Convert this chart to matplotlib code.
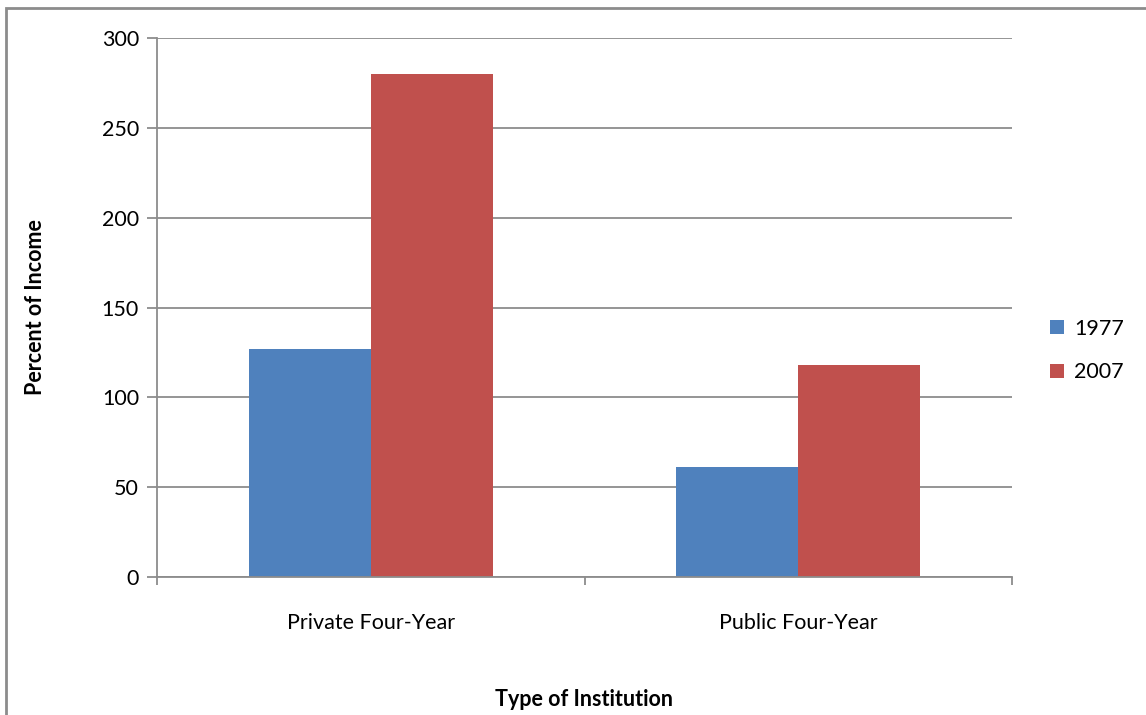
import matplotlib.pyplot as plt
import numpy as np
from matplotlib.patches import Rectangle

plt.rcParams["font.family"] = ["Lato", "DejaVu Sans"]

categories = ["Private Four-Year", "Public Four-Year"]
years = ["1977", "2007"]
values_1977 = [127, 61]
values_2007 = [280, 118]
yticks = [0, 50, 100, 150, 200, 250, 300]

blue = "#4f81bd"
red = "#c0504d"
gray = "#8c8c8c"
fs = 15.5

fig = plt.figure(figsize=(11.46, 7.15), dpi=100)
ax = fig.add_axes([157 / 1146, 1 - 577 / 715, 855 / 1146, 539 / 715])

x = np.arange(len(categories))
w = 0.285
ax.bar(x - w / 2, values_1977, w, color=blue, label=years[0])
ax.bar(x + w / 2, values_2007, w, color=red, label=years[1])

ax.set_xlim(-0.5, 1.5)
ax.set_ylim(0, 300)
ax.set_yticks(yticks)
ax.yaxis.grid(True, color=gray, linewidth=1.3)
ax.set_axisbelow(True)

# category labels sit between the boundary tick marks
ax.set_xticks([-0.5, 0.5, 1.5])
ax.set_xticklabels([])
ax.set_xticks(x, minor=True)
ax.set_xticklabels(categories, minor=True, fontsize=fs)
ax.tick_params(axis="x", which="minor", length=0, pad=26)
ax.tick_params(axis="x", which="major", length=6, width=1.3, color=gray)
ax.tick_params(axis="y", length=7, width=1.3, color=gray, labelsize=fs, pad=6)

for side in ["top", "right"]:
    ax.spines[side].set_visible(False)
for side in ["left", "bottom"]:
    ax.spines[side].set_color(gray)
    ax.spines[side].set_linewidth(1.3)

ax.set_ylabel("Percent of Income", fontsize=fs, fontweight="bold", labelpad=40)
fig.text(584 / 1146, 1 - 700 / 715, "Type of Institution", fontsize=fs,
         fontweight="bold", ha="center", va="center")

ax.legend(loc="center left", bbox_to_anchor=(1.022, 0.42), frameon=False,
          fontsize=fs, handlelength=0.65, handleheight=0.65, handletextpad=0.45,
          labelspacing=1.1)

# chart frame
fig.patches.append(Rectangle((6 / 1146, -0.1), 1.2, 1 - 8 / 715 + 0.1,
                             transform=fig.transFigure, fill=False,
                             edgecolor=gray, linewidth=2))

fig.savefig("out.png", dpi=100)
